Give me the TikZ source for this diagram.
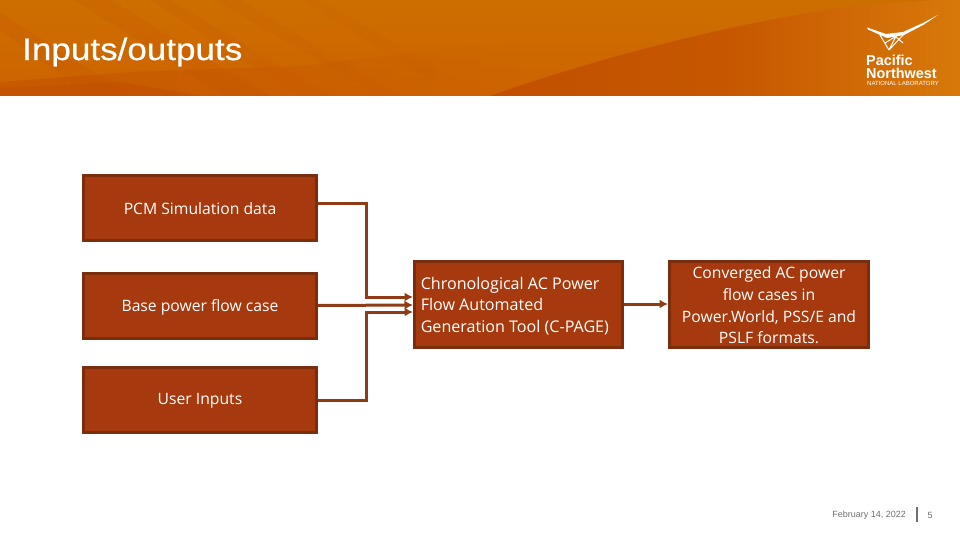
\documentclass[tikz,border=0pt]{standalone}
\usepackage{fontspec}
\setmainfont{Open Sans}
\newfontfamily\headfont{Liberation Sans}
\newfontfamily\titlefont[FakeStretch=1.13,FakeBold=0.5]{Liberation Sans}
\usetikzlibrary{arrows.meta,calc,fadings}
\definecolor{boxfill}{HTML}{A63A0E}
\definecolor{boxline}{HTML}{7B2E0E}
\definecolor{linkcol}{HTML}{8E3B16}
\definecolor{bandlight}{HTML}{D67300}
\definecolor{banddark}{HTML}{C25000}
\definecolor{daytext}{HTML}{707070}
\newcommand\nudgedown[2]{\raisebox{0pt}[\dimexpr\height+#1\relax]{#2}}
\tikzset{
  flowbox/.style={draw=boxline,line width=3pt,fill=boxfill,text=white,inner sep=0pt,font=\fontsize{15.7}{21.6}\selectfont,align=center},
  link/.style={draw=linkcol,line width=3pt,-{Latex[length=8.5pt,width=9pt]}},
  logoline/.style={draw=white,line cap=round,line join=round},
}
\begin{document}
\begin{tikzpicture}[x=1pt,y=-1pt]
\useasboundingbox (0,0) rectangle (960,540);
% header band
\begin{scope}
\clip (0,0) rectangle (960,96);
\shade[top color=bandlight!96!black,bottom color=bandlight!55!banddark] (0,0) rectangle (960,96);
% right wedge
\shade[left color=banddark,right color=bandlight!96!white,middle color=banddark!80!bandlight]
  (490,96) .. controls (620,50) and (780,12) .. (880,4) -- (960,-2) -- (960,96) -- cycle;
% low left band
\fill[banddark,opacity=.55,path fading=east] (0,82) -- (130,72) -- (300,66) -- (520,40) -- (520,96) -- (0,96) -- cycle;
\fill[banddark,opacity=.55] (0,88) -- (120,82) -- (200,96) -- (0,96) -- cycle;
% diagonal streaks
\fill[banddark,opacity=.18] (0,12) -- (0,30) -- (90,96) -- (130,96) -- cycle;
\fill[banddark,opacity=.16] (75,0) -- (110,0) -- (270,96) -- (225,96) -- cycle;
\fill[banddark,opacity=.12] (150,0) -- (170,0) -- (330,96) -- (300,96) -- cycle;
\fill[banddark,opacity=.10] (215,0) -- (240,0) -- (400,96) -- (380,96) -- cycle;
\fill[banddark,opacity=.08] (300,0) -- (320,0) -- (450,76) -- (430,80) -- cycle;
\end{scope}
\node[anchor=west,inner sep=0pt,text=white,font=\titlefont\fontsize{31}{34}\selectfont] (title) at (22,52) {Inputs/outputs};
% logo
\fill[white] (867,27.5) -- (886,34) -- (903,32) -- (923,23) -- (938,15) -- (924,24.5) -- (904,35) -- (887,38) -- (868,29.5) -- cycle;
\draw[logoline,line width=1pt] (880,35) -- (889,50) -- (904,34)
  (885,43) -- (898,35) (895,36) -- (903,43) (889,50) -- (897,34);
\node[anchor=west,inner sep=0pt,text=white,font=\headfont\bfseries\fontsize{14.4}{15}\selectfont] (lpac) at (866,60) {Pacific};
\node[anchor=west,inner sep=0pt,text=white,font=\headfont\bfseries\fontsize{14.4}{15}\selectfont] (lnor) at (866,73) {Northwest};
\node[anchor=west,inner sep=0pt,text=white,font=\headfont\fontsize{6}{7}\selectfont] (lnat) at (867,83) {NATIONAL LABORATORY};
% boxes
\node[flowbox,minimum width=233pt,minimum height=65pt] (pcm) at (200,208) {\nudgedown{2pt}{PCM Simulation data}};
\node[flowbox,minimum width=233pt,minimum height=65pt] (base) at (200,306) {\nudgedown{3pt}{Base power flow case}};
\node[flowbox,minimum width=233pt,minimum height=65pt] (user) at (200,400) {\nudgedown{2pt}{User Inputs}};
\node[flowbox,minimum width=208pt,minimum height=86pt] (tool) at (518.5,304.5) {\nudgedown{3pt}{\begin{minipage}{195.5pt}\fontsize{16.1}{21.6}\selectfont\raggedright Chronological AC Power\\Flow Automated\\Generation Tool (C-PAGE)\end{minipage}}};
\node[flowbox,minimum width=199pt,minimum height=86pt] (out) at (769,304.5) {\nudgedown{2pt}{\parbox{195pt}{\centering Converged AC power\\flow cases in\\Power.World, PSS/E and\\PSLF formats.}}};
% connector anchors
\coordinate (p0) at ($(pcm.east)+(0,-5)$);
\coordinate (pc) at (366,203);
\coordinate (pd) at (366,297);
\coordinate (pe) at ($(tool.west)+(0,-7.5)$);
\coordinate (uc) at (366,400);
\coordinate (ud) at (366,312);
\coordinate (ue) at ($(tool.west)+(0,7.5)$);
\coordinate (be) at ($(tool.west)+(0,.5)$);
\coordinate (b0) at ($(base.east)+(0,-.5)$);
\coordinate (te) at ($(tool.east)+(0,-.5)$);
\coordinate (oe) at ($(out.west)+(0,-.5)$);
\draw[link] (p0) -- (pc) -- (pd) -- (pe);
\draw[link] (b0) -- (be);
\draw[link] (user.east) -- (uc) -- (ud) -- (ue);
\draw[link] (te) -- (oe);
% footer
\node[anchor=east,inner sep=0pt,text=daytext,font=\headfont\fontsize{9}{10}\selectfont] (date) at (906,515) {February 14, 2022};
\coordinate (s1) at (917,507);
\coordinate (s2) at (917,522);
\draw[daytext,line width=1.5pt] (s1) -- (s2);
\node[anchor=center,inner sep=0pt,text=daytext,font=\headfont\fontsize{9}{10}\selectfont] (pageno) at (930,515) {5};
\end{tikzpicture}
\end{document}
